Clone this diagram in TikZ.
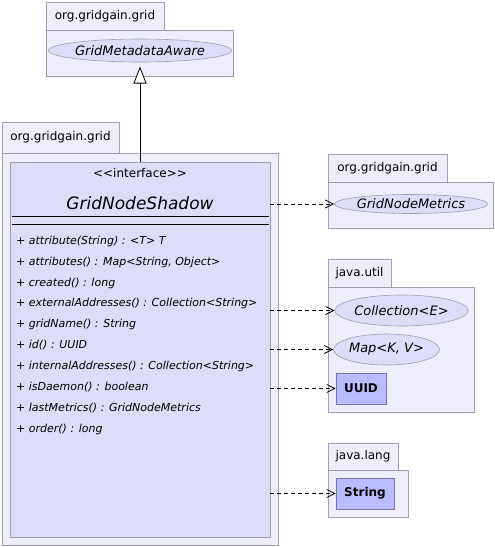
\documentclass[tikz,border=0pt]{standalone}
\usepackage{fontspec}
\setmainfont[Ligatures=NoCommon]{DejaVu Sans}
\usetikzlibrary{arrows.meta}
\definecolor{pkgfill}{RGB}{238,238,250}
\definecolor{pkgline}{RGB}{160,160,176}
\definecolor{clsfill}{RGB}{221,221,250}
\definecolor{boxfill}{RGB}{187,187,255}
\definecolor{boxline}{RGB}{120,120,160}
\tikzset{
  pkgpart/.style={draw=pkgline, fill=pkgfill, line width=0.8pt, inner sep=0pt, outer sep=0pt},
  pkglabel/.style={font=\fontsize{12}{14}\selectfont},
  clsbox/.style={draw=pkgline, fill=clsfill, line width=0.8pt, inner sep=0pt},
  iface/.style={ellipse, draw=pkgline, fill=clsfill, line width=0.6pt, inner sep=0pt, font=\fontsize{13}{15}\selectfont\itshape},
  cbox/.style={draw=boxline, fill=boxfill, line width=0.8pt, inner sep=0pt, font=\fontsize{12}{14}\selectfont\bfseries},
  meth/.style={anchor=west, inner sep=0pt, font=\fontsize{11}{13}\selectfont\itshape},
  dep/.style={draw=black, dashed, dash pattern=on 4pt off 3pt, line width=0.7pt, -{Straight Barb[length=8pt,width=8pt,line width=0.8pt]}},
  inherit/.style={draw=black, line width=0.8pt, -{Triangle[open,length=17pt,width=13pt,fill=white]}},
}
\usetikzlibrary{shapes.geometric}
\begin{document}
\begin{tikzpicture}[x=1pt,y=-1pt]
\useasboundingbox (0,0) rectangle (495,547);
% package 1
\node[pkgpart, minimum width=118pt, minimum height=28pt, pkglabel] (p1tab) at (105,16) {org.gridgain.grid};
\node[pkgpart, minimum width=187pt, minimum height=46pt] (p1body) at (139.5,53) {};
\node[iface, minimum width=172pt, minimum height=23pt] (gma) at (140,50.5) {GridMetadataAware};
% package 2
\node[pkgpart, minimum width=117pt, minimum height=31pt, pkglabel] (p2tab) at (60.5,137.5) {org.gridgain.grid};
\node[pkgpart, minimum width=276pt, minimum height=392pt] (p2body) at (140,349) {};
\node[clsbox, minimum width=260pt, minimum height=375pt] (cls) at (140,349.5) {};
\node[inner sep=0pt, font=\fontsize{12}{14}\selectfont] (ster) at (140,173) {{<}{<}interface{>}{>}};
\node[inner sep=0pt, font=\fontsize{17}{20}\selectfont\itshape] (cname) at (140,203) {GridNodeShadow};
\coordinate (l1a) at (12,216); \coordinate (l1b) at (269,216);
\coordinate (l2a) at (12,224); \coordinate (l2b) at (269,224);
\draw[line width=0.8pt] (l1a) -- (l1b);
\draw[line width=0.8pt] (l2a) -- (l2b);
\node[meth] (m1) at (16,241) {+ attribute(String) : {<}T{>} T};
\node[meth] (m2) at (16,262) {+ attributes() : Map{<}String, Object{>}};
\node[meth] (m3) at (16,283) {+ created() : long};
\node[meth] (m4) at (16,303.5) {+ externalAddresses() : Collection{<}String{>}};
\node[meth] (m5) at (16,324.5) {+ gridName() : String};
\node[meth] (m6) at (16,345) {+ id() : UUID};
\node[meth] (m7) at (16,366) {+ internalAddresses() : Collection{<}String{>}};
\node[meth] (m8) at (16,387) {+ isDaemon() : boolean};
\node[meth] (m9) at (16,408) {+ lastMetrics() : GridNodeMetrics};
\node[meth] (m10) at (16,429) {+ order() : long};
% package 3
\node[pkgpart, minimum width=119pt, minimum height=28pt, pkglabel] (p3tab) at (387.5,168) {org.gridgain.grid};
\node[pkgpart, minimum width=165pt, minimum height=46pt] (p3body) at (410.5,205) {};
\node[iface, minimum width=150pt, minimum height=19pt] (gnm) at (411,204) {GridNodeMetrics};
% java.util
\node[pkgpart, minimum width=63pt, minimum height=28pt, pkglabel] (p4tab) at (359.5,273) {java.util};
\node[pkgpart, minimum width=146pt, minimum height=125pt] (p4body) at (401,349.5) {};
\node[iface, minimum width=131pt, minimum height=31pt] (coll) at (401.5,310.5) {Collection{<}E{>}};
\node[iface, minimum width=101pt, minimum height=31pt] (map) at (386.5,349.5) {Map{<}K, V{>}};
\node[cbox, minimum width=50pt, minimum height=31pt] (uuid) at (361,388.5) {UUID};
% java.lang
\node[pkgpart, minimum width=70pt, minimum height=27pt, pkglabel] (p5tab) at (363,456.5) {java.lang};
\node[pkgpart, minimum width=80pt, minimum height=47pt] (p5body) at (368,493.5) {};
\node[cbox, minimum width=58pt, minimum height=31pt] (str) at (365,493.5) {String};
% connectors
\coordinate (gtip) at (140,66.5);
\draw[inherit] (cls.north) -- (gtip);
\draw[dep] (cls.east |- gnm.west) -- (gnm.west);
\draw[dep] (cls.east |- coll.west) -- (coll.west);
\draw[dep] (cls.east |- map.west) -- (map.west);
\draw[dep] (cls.east |- uuid.west) -- (uuid.west);
\draw[dep] (cls.east |- str.west) -- (str.west);
\end{tikzpicture}
\end{document}
